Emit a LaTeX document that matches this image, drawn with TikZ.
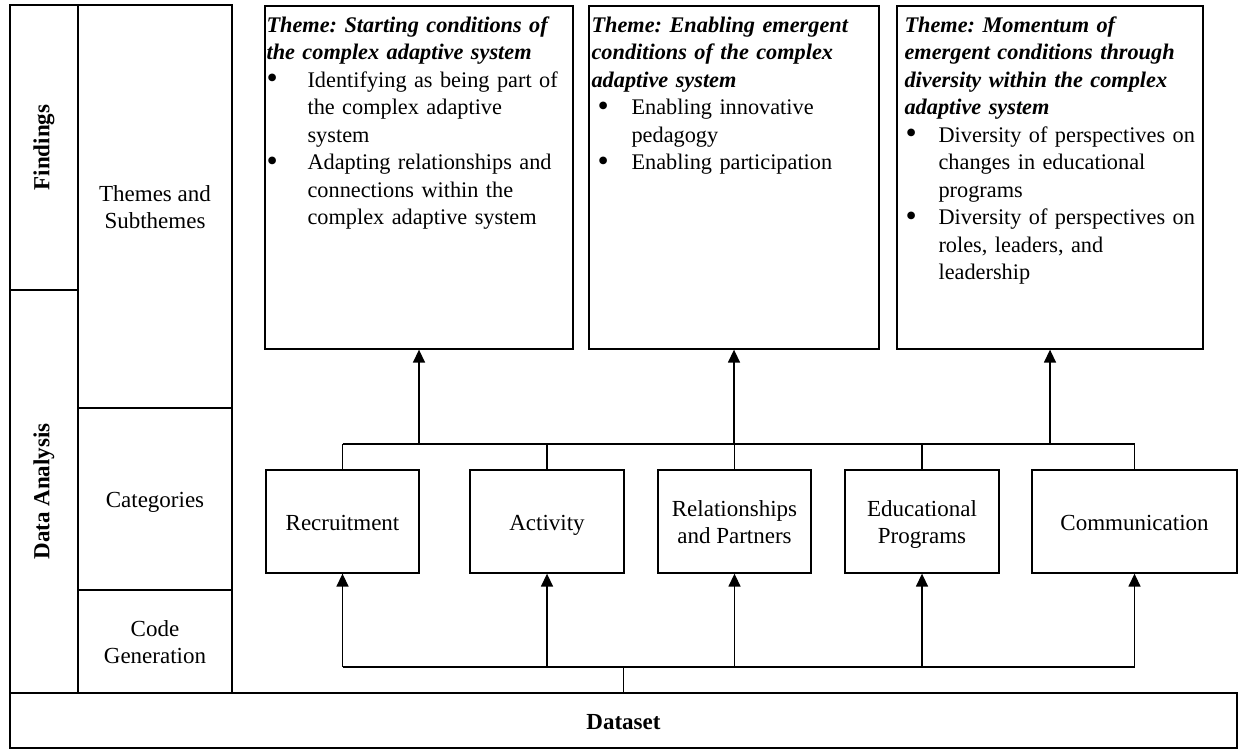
\documentclass[tikz,border=0pt]{standalone}
\usepackage{fontspec}
\setmainfont{Liberation Serif}
\usetikzlibrary{arrows.meta,calc}
\newcommand\fs{\fontsize{23}{27.5}\selectfont}
\newcommand\fst{\fontsize{22.3}{27.5}\selectfont}
\newcommand\sst{\rule[-5.25pt]{0pt}{27.5pt}}
\newcommand\bigbul{\raisebox{-1.5pt}{\fontsize{32}{32}\selectfont\textbullet}}
\newcommand\bul[3]{\par\raggedright\noindent\hangindent=#1\hangafter=1\makebox[#1][l]{\hspace{#2}\bigbul}#3\par}
\newcommand\ttl[1]{\raggedright\noindent\textbf{\textit{#1}}\par}
\begin{document}
\begin{tikzpicture}[x=1pt,y=-1pt,
  box/.style={draw=black,line width=1.3pt,inner sep=0pt,align=center,font=\fs},
  lbl/.style={inner sep=0pt,font=\fs\bfseries},
  ttext/.style={inner sep=0pt,text width=330pt,align=left,font=\fst\frenchspacing,anchor=base west},
  conn/.style={draw=black,line width=1.5pt},
  arr/.style={conn,-{Triangle[width=12pt,length=13pt]}}]
\useasboundingbox[fill=white] (0,0) rectangle (1239,750);
% left columns
\node[box,minimum width=68pt,minimum height=285pt] (find) at (44,147.5) {};
\node[box,minimum width=68pt,minimum height=403pt] (da) at (44,491.5) {};
\node[lbl,rotate=90] (findl) at (find.center) {Findings};
\node[lbl,rotate=90] (dal) at (da.center) {Data Analysis};
\node[box,minimum width=154pt,minimum height=403pt] (themes) at (155,206.5) {\sst Themes and\\\sst Subthemes};
\node[box,minimum width=154pt,minimum height=182pt] (cats) at (155,499) {\sst Categories};
\node[box,minimum width=154pt,minimum height=103pt] (code) at (155,641.5) {\sst Code\\\sst Generation};
\node[box,minimum width=1227pt,minimum height=55pt,font=\fs\bfseries] (data) at (623.5,720.5) {\sst Dataset};
% theme boxes
\node[box,minimum width=308pt,minimum height=343pt] (th1) at (419,177.5) {};
\node[box,minimum width=290pt,minimum height=343pt] (th2) at (734,177.5) {};
\node[box,minimum width=306pt,minimum height=343pt] (th3) at (1050,177.5) {};
\node[ttext] (t1) at ($(th1.north west)+(2,27)$) {%
\ttl{Theme: Starting conditions of\newline the complex adaptive system}%
\bul{41pt}{0pt}{Identifying as being part of\newline the complex adaptive\newline system}%
\bul{41pt}{0pt}{Adapting relationships and\newline connections within the\newline complex adaptive system}};
\node[ttext] (t2) at ($(th2.north west)+(3,27)$) {%
\ttl{Theme: Enabling emergent\newline conditions of the complex\newline adaptive system}%
\bul{40pt}{6pt}{Enabling innovative\newline pedagogy}%
\bul{40pt}{6pt}{Enabling participation}};
\node[ttext] (t3) at ($(th3.north west)+(8,27)$) {%
\ttl{Theme: Momentum of\newline emergent conditions through\newline diversity within the complex\newline adaptive system}%
\bul{34pt}{1pt}{Diversity of perspectives on\newline changes in educational\newline programs}%
\bul{34pt}{1pt}{Diversity of perspectives on\newline roles, leaders, and\newline leadership}};
% category boxes
\node[box,minimum width=153pt,minimum height=103pt] (rec) at (342.5,521.5) {\sst Recruitment};
\node[box,minimum width=154pt,minimum height=103pt] (act) at (547,521.5) {\sst Activity};
\node[box,minimum width=153pt,minimum height=103pt] (rel) at (734.5,521.5) {\sst Relationships\\\sst and Partners};
\node[box,minimum width=154pt,minimum height=103pt] (edu) at (922,521.5) {\sst Educational\\\sst Programs};
\node[box,minimum width=205pt,minimum height=103pt] (com) at (1134.5,521.5) {\sst Communication};
% buses
\coordinate (tb) at (0,444);
\coordinate (bb) at (0,667);
\foreach \n in {rec,act,rel,edu,com}{
  \draw[conn] (\n.north) -- (\n.north |- tb);
  \draw[arr] (\n.south |- bb) -- (\n.south);
}
\draw[conn] (rec.north |- tb) -- (com.north |- tb);
\draw[conn] (rec.south |- bb) -- (com.south |- bb);
\draw[conn] (data.north) -- (data.north |- bb);
\foreach \n in {th1,th2,th3}{
  \draw[arr] (\n.south |- tb) -- (\n.south);
}
\end{tikzpicture}
\end{document}
